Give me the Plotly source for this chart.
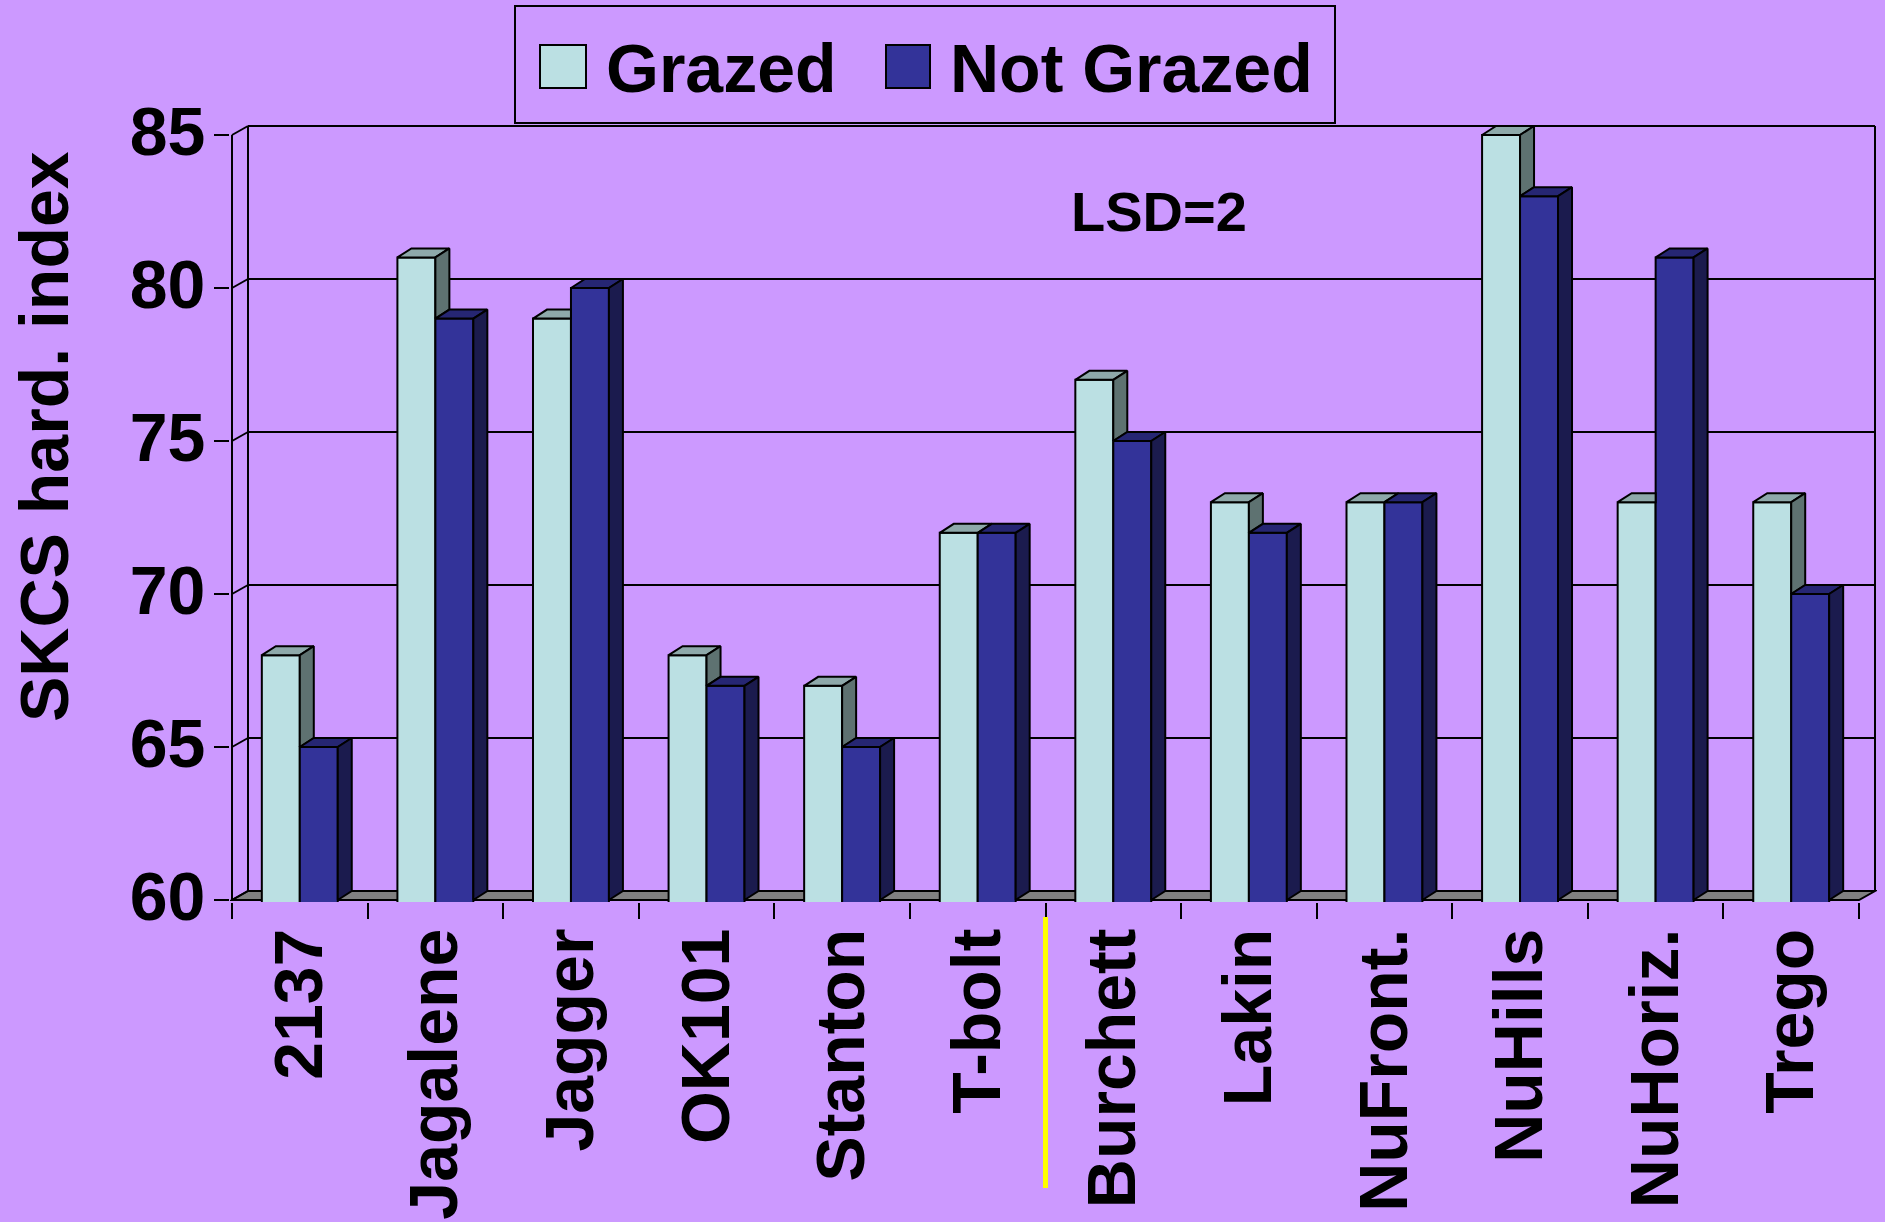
import plotly.graph_objects as go

# ---------------- data ----------------
categories = ["2137", "Jagalene", "Jagger", "OK101", "Stanton", "T-bolt",
              "Burchett", "Lakin", "NuFront.", "NuHills", "NuHoriz.", "Trego"]
grazed = [68, 81, 79, 68, 67, 72, 77, 73, 73, 85, 73, 73]
not_grazed = [65, 79, 80, 67, 65, 72, 75, 72, 73, 83, 81, 70]
y_ticks = [60, 65, 70, 75, 80, 85]
series_names = ["Grazed", "Not Grazed"]
y_title = "SKCS hard. index"
lsd_label = "LSD=2"

# ---------------- styling / geometry ----------------
W, H = 1885, 1222
FONT = "Liberation Sans, Arial, sans-serif"
BG = "#CC99FF"
G_FACE, G_TOP, G_SIDE = "#BBE0E3", "#8EA9AA", "#5E7271"
N_FACE, N_TOP, N_SIDE = "#333399", "#262673", "#1B1B4E"

n = len(categories)
ymin, ymax = y_ticks[0], y_ticks[-1]
# front plane pixel scale
ppu_y = (900 - 135) / (ymax - ymin)
ppu_x = (1859 - 232) / n
PAD = 2
WALL_DX, WALL_DY = 16 / ppu_x, 9 / ppu_y      # depth of chart walls
BAR_DX, BAR_DY = 14 / ppu_x, 9 / ppu_y        # depth of bars
BW = 0.28                                     # bar width (category units)

dom_l, dom_r, dom_t, dom_b = 230, 1877, 124, 902
x_range = [-0.5 - PAD / ppu_x, n - 0.5 + (16 + PAD) / ppu_x]
y_range = [ymin - PAD / ppu_y, ymax + (9 + PAD) / ppu_y]


def px(xp):
    return (xp - dom_l) / (dom_r - dom_l)


def py(yp):
    return (dom_b - yp) / (dom_b - dom_t)


fig = go.Figure()

# front faces of bars
fig.add_trace(go.Bar(x=list(range(n)), y=grazed, name=series_names[0], width=BW, offset=-BW,
                     marker=dict(color=G_FACE, line=dict(color="black", width=2)),
                     hoverinfo="skip", showlegend=False))
fig.add_trace(go.Bar(x=list(range(n)), y=not_grazed, name=series_names[1], width=BW, offset=0,
                     marker=dict(color=N_FACE, line=dict(color="black", width=2)),
                     hoverinfo="skip", showlegend=False))


def poly_trace(polys, color):
    xs, ys = [], []
    for p in polys:
        for (a, b) in p:
            xs.append(a)
            ys.append(b)
        xs.append(p[0][0])
        ys.append(p[0][1])
        xs.append(None)
        ys.append(None)
    return go.Scatter(x=xs, y=ys, mode="lines", fill="toself", fillcolor=color,
                      line=dict(color="black", width=2), hoverinfo="skip", showlegend=False)


g_tops, g_sides, n_tops, n_sides = [], [], [], []
for i in range(n):
    vg, vn = grazed[i], not_grazed[i]
    gx0, gx1 = i - BW, i
    nx0, nx1 = i, i + BW
    # grazed top (right part hidden behind taller neighbour)
    if vg < vn:
        g_tops.append([(gx0, vg), (gx1, vg), (gx1, vg + BAR_DY), (gx0 + BAR_DX, vg + BAR_DY)])
    else:
        g_tops.append([(gx0, vg), (gx1, vg), (gx1 + BAR_DX, vg + BAR_DY), (gx0 + BAR_DX, vg + BAR_DY)])
    # grazed side visible only above the neighbour
    if vg > vn:
        g_sides.append([(gx1, vn), (gx1, vg), (gx1 + BAR_DX, vg + BAR_DY), (gx1 + BAR_DX, vn + BAR_DY)])
    n_tops.append([(nx0, vn), (nx1, vn), (nx1 + BAR_DX, vn + BAR_DY), (nx0 + BAR_DX, vn + BAR_DY)])
    n_sides.append([(nx1, ymin), (nx1, vn), (nx1 + BAR_DX, vn + BAR_DY), (nx1 + BAR_DX, ymin + BAR_DY)])

fig.add_trace(poly_trace(g_tops, G_TOP))
fig.add_trace(poly_trace(g_sides, G_SIDE))
fig.add_trace(poly_trace(n_tops, N_TOP))
fig.add_trace(poly_trace(n_sides, N_SIDE))

shapes = []
xl, xr = -0.5, n - 0.5
line_k = dict(color="black", width=2)
# floor
shapes.append(dict(type="path", xref="x", yref="y", layer="below",
                   path=f"M{xl},{ymin} L{xr},{ymin} L{xr + WALL_DX},{ymin + WALL_DY} L{xl + WALL_DX},{ymin + WALL_DY} Z",
                   fillcolor="#808080", line=line_k))
# back wall gridlines and side-wall diagonals
for v in y_ticks:
    shapes.append(dict(type="line", xref="x", yref="y", layer="below",
                       x0=xl + WALL_DX, x1=xr + WALL_DX, y0=v + WALL_DY, y1=v + WALL_DY, line=line_k))
    shapes.append(dict(type="line", xref="x", yref="y", layer="below",
                       x0=xl, x1=xl + WALL_DX, y0=v, y1=v + WALL_DY, line=line_k))
# wall verticals
for xv in (xl + WALL_DX, xr + WALL_DX):
    shapes.append(dict(type="line", xref="x", yref="y", layer="below",
                       x0=xv, x1=xv, y0=ymin + WALL_DY, y1=ymax + WALL_DY, line=line_k))
# front value axis line
shapes.append(dict(type="line", xref="x", yref="y", layer="below",
                   x0=xl, x1=xl, y0=ymin, y1=ymax, line=line_k))
# yellow separator
shapes.append(dict(type="line", xref="x", yref="paper", x0=5.5, x1=5.5,
                   y0=py(917), y1=py(1188), line=dict(color="#FFFF00", width=5)))
# legend box and swatches
shapes.append(dict(type="rect", xref="paper", yref="paper", x0=px(515), x1=px(1335),
                   y0=py(123), y1=py(6), line=line_k, fillcolor=BG))
shapes.append(dict(type="rect", xref="paper", yref="paper", x0=px(540), x1=px(586),
                   y0=py(88), y1=py(45), line=line_k, fillcolor=G_FACE))
shapes.append(dict(type="rect", xref="paper", yref="paper", x0=px(886), x1=px(930),
                   y0=py(88), y1=py(45), line=line_k, fillcolor=N_FACE))

bold = lambda s: dict(family=FONT, size=s, color="black", weight="bold")
annotations = [
    dict(text=series_names[0], xref="paper", yref="paper", x=px(604), y=py(68),
         xanchor="left", yanchor="middle", showarrow=False, font=bold(68)),
    dict(text=series_names[1], xref="paper", yref="paper", x=px(948), y=py(68),
         xanchor="left", yanchor="middle", showarrow=False, font=bold(68)),
    dict(text=y_title, xref="paper", yref="paper", x=px(44), y=py(437), textangle=-90,
         xanchor="center", yanchor="middle", showarrow=False, font=bold(68)),
    dict(text=lsd_label, xref="paper", yref="paper", x=px(1159), y=py(211),
         xanchor="center", yanchor="middle", showarrow=False, font=bold(56)),
]

fig.update_layout(
    width=W, height=H,
    margin=dict(l=dom_l, r=W - dom_r, t=dom_t, b=H - dom_b, autoexpand=False),
    paper_bgcolor=BG, plot_bgcolor=BG,
    barmode="overlay",
    shapes=shapes, annotations=annotations,
    showlegend=False,
    font=dict(family=FONT, color="black"),
    xaxis=dict(range=x_range, tickmode="array", tickvals=list(range(n)), ticktext=categories,
               tickangle=-90, ticks="", showgrid=False, zeroline=False, showline=False,
               tickfont=bold(68), automargin=False, ticklabelstandoff=12,
               minor=dict(ticks="outside", tickmode="array",
                          tickvals=[i - 0.5 for i in range(n + 1)],
                          ticklen=16, tickwidth=2, tickcolor="black", showgrid=False)),
    yaxis=dict(range=y_range, tickmode="array", tickvals=y_ticks, ticktext=[str(v) for v in y_ticks],
               ticks="outside", ticklen=15, tickwidth=2, tickcolor="black",
               showgrid=False, zeroline=False, showline=False,
               tickfont=bold(68), automargin=False, ticklabelshift=-4, ticklabelstandoff=-5),
)

fig.write_html("out.html", config={"displayModeBar": False},
               post_script="document.body.style.margin='0';document.body.style.background='" + BG + "';")
